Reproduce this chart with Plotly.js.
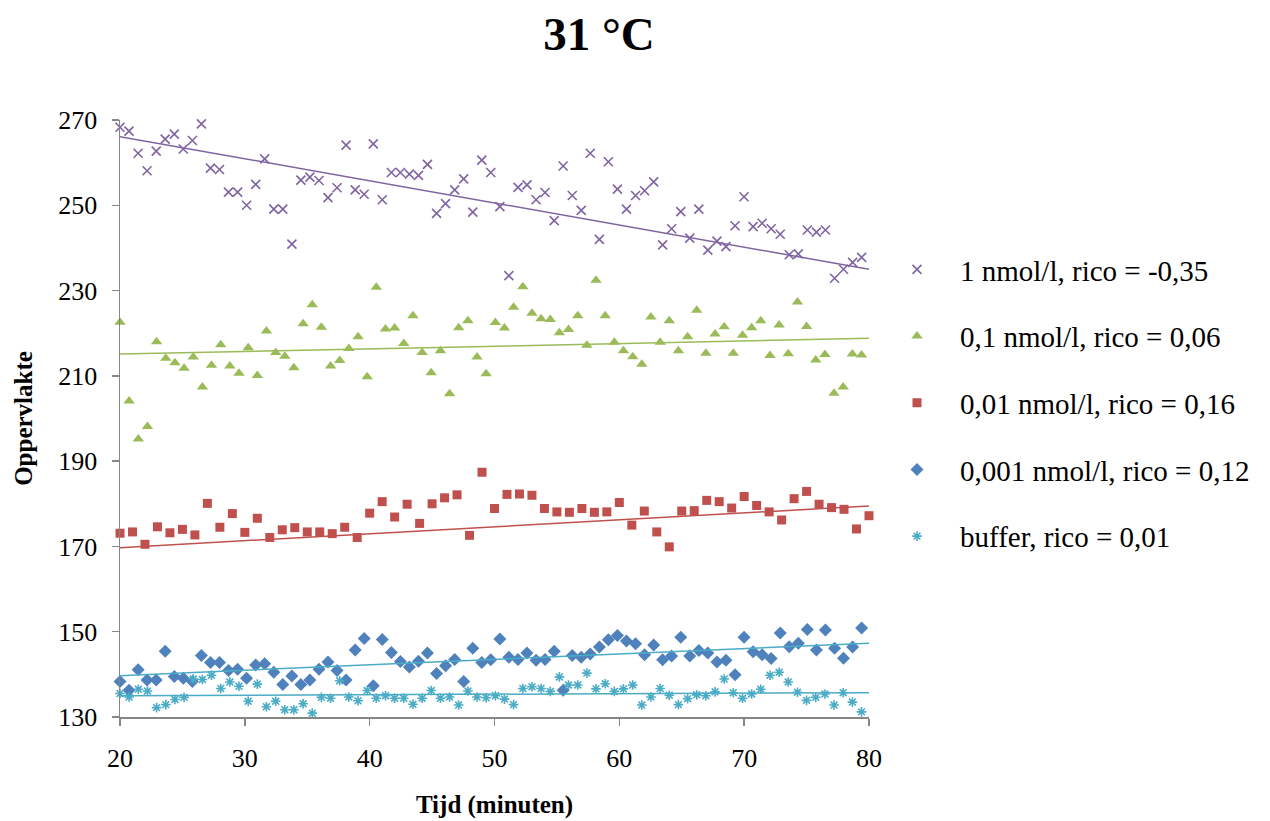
<!DOCTYPE html>
<html>
<head>
<meta charset="utf-8">
<script src="https://cdn.plot.ly/plotly-3.0.1.min.js"></script>
<style>html,body{margin:0;padding:0;background:#fff;}#chart{width:1270px;height:821px;}</style>
</head>
<body>
<div id="chart"></div>
<script>
// Time values (minutes)
const tijd83 = [20.00,20.72,21.45,22.17,22.90,23.62,24.35,25.07,25.80,26.52,27.25,27.97,28.69,29.42,30.14,30.87,31.59,32.32,33.04,33.77,34.49,35.21,35.94,36.66,37.39,38.11,38.84,39.56,40.29,41.01,41.74,42.46,43.18,43.91,44.63,45.36,46.08,46.81,47.53,48.26,48.98,49.70,50.43,51.15,51.88,52.60,53.33,54.05,54.78,55.50,56.23,56.95,57.67,58.40,59.12,59.85,60.57,61.30,62.02,62.75,63.47,64.19,64.92,65.64,66.37,67.09,67.82,68.54,69.27,69.99,70.72,71.44,72.16,72.89,73.61,74.34,75.06,75.79,76.51,77.24,77.96,78.69,79.41];
const tijd82 = [20.00,20.73,21.47,22.20,22.93,23.67,24.40,25.13,25.87,26.60,27.33,28.07,28.80,29.53,30.27,31.00,31.73,32.47,33.20,33.93,34.67,35.40,36.13,36.87,37.60,38.33,39.07,39.80,40.53,41.27,42.00,42.73,43.47,44.20,44.93,45.67,46.40,47.13,47.87,48.60,49.33,50.07,50.80,51.53,52.27,53.00,53.73,54.47,55.20,55.93,56.67,57.40,58.13,58.87,59.60,60.33,61.07,61.80,62.53,63.27,64.00,64.73,65.47,66.20,66.93,67.67,68.40,69.13,69.87,70.60,71.33,72.07,72.80,73.53,74.27,75.00,75.73,76.47,77.20,77.93,78.67,79.40];
const tijd61 = [20,21,22,23,24,25,26,27,28,29,30,31,32,33,34,35,36,37,38,39,40,41,42,43,44,45,46,47,48,49,50,51,52,53,54,55,56,57,58,59,60,61,62,63,64,65,66,67,68,69,70,71,72,73,74,75,76,77,78,79,80];

const y1nmol = [268.3,267.4,262.2,258.1,262.7,265.5,266.7,263.2,265.2,269.1,258.7,258.4,253.1,253.1,250.0,254.9,260.9,249.1,249.1,240.9,255.9,256.6,255.8,251.8,254.1,264.1,253.6,252.6,264.4,251.3,257.7,257.7,257.3,257.0,259.6,248.1,250.4,253.6,256.2,248.4,260.6,257.7,249.7,233.5,254.2,254.8,251.3,253.0,246.4,259.2,252.3,248.8,262.2,242.0,260.2,253.8,249.1,252.3,253.4,255.5,240.7,244.5,248.5,242.3,249.1,239.5,241.6,240.3,245.2,252.0,245.0,245.8,244.5,243.2,238.4,238.6,244.2,243.7,244.2,232.9,235.0,236.6,237.8];
const y01nmol = [222.6,204.1,195.2,198.1,218.0,214.1,213.1,211.8,214.4,207.4,212.5,217.3,212.3,210.6,216.6,210.1,220.5,215.5,214.6,211.9,222.2,226.7,221.4,212.3,213.6,216.4,219.2,209.8,230.8,221.0,221.2,217.6,224.1,215.5,210.7,215.9,205.8,221.3,222.9,214.4,210.5,222.5,221.2,226.1,230.9,224.7,223.4,223.2,220.1,220.9,224.1,217.2,232.4,224.1,217.9,215.9,214.5,212.7,223.8,217.9,222.9,215.9,219.2,225.4,215.3,219.8,221.5,215.3,219.5,221.3,222.9,214.8,221.9,215.2,227.3,221.6,213.7,215.0,205.9,207.4,215.1,214.9];
const y001nmol = [173.1,173.4,170.5,174.6,173.2,174.0,172.7,180.1,174.5,177.7,173.3,176.6,172.1,173.9,174.4,173.4,173.4,173.0,174.5,172.1,177.8,180.5,176.9,179.9,175.4,180.0,181.4,182.1,172.6,187.4,178.9,182.2,182.3,182.0,178.9,178.1,178.0,178.9,178.0,178.1,180.3,175.0,178.3,173.4,169.9,178.3,178.4,180.8,180.5,179.0,181.7,179.6,178.1,176.2,181.2,182.9,179.9,179.1,178.7,174.1,177.2];
const y0001nmol = [138.3,136.3,141.1,138.7,138.7,145.4,139.5,139.1,138.3,144.4,142.8,142.8,140.9,141.2,139.1,142.2,142.5,140.5,137.6,139.6,137.6,138.7,141.2,142.9,140.9,138.7,145.7,148.4,137.3,148.2,145.1,143.0,141.7,143.1,145.0,140.2,142.0,143.5,138.3,146.1,142.8,143.4,148.3,144.0,143.5,145.0,143.3,143.5,145.4,136.3,144.4,144.0,144.8,146.4,148.1,149.1,147.8,147.2,144.6,146.9,143.4,144.3,148.7,144.3,145.6,145.0,142.9,143.3,139.9,148.7,145.3,144.6,143.7,149.7,146.5,147.3,150.5,145.7,150.4,146.1,143.8,146.4,150.9];
const yBuffer = [135.5,134.7,136.5,136.1,132.2,132.9,134.1,134.6,138.9,138.8,139.8,136.7,138.2,137.2,133.7,137.7,132.4,133.7,131.7,131.7,133.1,130.9,134.6,134.4,138.5,134.7,133.8,136.2,134.4,135.0,134.4,134.4,133.0,134.4,136.2,134.4,134.7,132.8,136.1,134.7,134.5,135.0,134.2,132.9,136.7,137.1,136.7,136.0,139.4,137.5,137.5,140.3,136.6,137.8,136.0,136.6,137.5,132.8,134.7,136.7,135.1,132.9,134.3,135.2,135.0,135.9,138.9,135.7,134.4,135.4,136.5,139.8,140.5,138.2,135.8,133.9,134.6,135.4,132.8,135.7,133.5,131.2];

// Trendline values at x = 20 and x = 80
const trendX = [20, 80];
const trend1nmol = [266.1, 235.0];
const trend01nmol = [215.1, 218.8];
const trend001nmol = [169.7, 179.5];
const trend0001nmol = [139.7, 147.3];
const trendBuffer = [135.0, 135.7];

const seriesNames = ['1 nmol/l, rico = -0,35','0,1 nmol/l, rico = 0,06','0,01 nmol/l, rico = 0,16','0,001 nmol/l, rico = 0,12','buffer, rico = 0,01'];
const xRange = [20, 80];
const yRange = [130, 270];

const SERIF = "Liberation Serif";

const defs = [
  {x: tijd83, y: y1nmol, t: trend1nmol, color: '#8064A2', line: '#8064A2', symbol: 'x-thin-open', size: 9, lw: 1.6},
  {x: tijd82, y: y01nmol, t: trend01nmol, color: '#9BBB59', line: '#9BBB59', symbol: 'triangle-up', size: 10, lw: 0},
  {x: tijd61, y: y001nmol, t: trend001nmol, color: '#C0504D', line: '#C0504D', symbol: 'square', size: 9, lw: 0},
  {x: tijd83, y: y0001nmol, t: trend0001nmol, color: '#4F81BD', line: '#4BACC6', symbol: 'diamond', size: 10, lw: 0},
  {x: tijd82, y: yBuffer, t: trendBuffer, color: '#4BACC6', line: '#4BACC6', symbol: 'asterisk-open', size: 8, lw: 1.6}
];

const traces = [];
defs.forEach((d, i) => {
  traces.push({
    type: 'scatter', mode: 'markers', x: d.x, y: d.y, name: seriesNames[i],
    legendgroup: 'g' + i,
    marker: {symbol: d.symbol, size: d.size, color: d.color, line: {color: d.color, width: d.lw}},
    cliponaxis: false
  });
});
defs.forEach((d, i) => {
  traces.push({
    type: 'scatter', mode: 'lines', x: trendX, y: d.t, showlegend: false,
    legendgroup: 'g' + i, hoverinfo: 'skip',
    line: {color: d.line, width: 1.5}
  });
});

const layout = {
  width: 1270, height: 821,
  margin: {l: 120, r: 401, t: 120, b: 104},
  paper_bgcolor: '#ffffff', plot_bgcolor: '#ffffff',
  font: {family: SERIF, color: '#000000'},
  title: {text: '31 °C', font: {family: SERIF, size: 47, weight: 'bold', color: '#000'},
          x: 599/1270, xref: 'container', xanchor: 'center', y: 1 - 34/821, yref: 'container', yanchor: 'middle'},
  xaxis: {
    range: xRange, dtick: 10, tick0: 20, showgrid: false, zeroline: false,
    showline: true, linecolor: '#868686', linewidth: 1.5,
    ticks: 'outside', ticklen: 7, tickcolor: '#868686', tickwidth: 1.5,
    ticklabelstandoff: 10,
    tickfont: {family: SERIF, size: 26, color: '#000'},
    title: {text: 'Tijd (minuten)', font: {family: SERIF, size: 25, weight: 'bold', color: '#000'}, standoff: 24}
  },
  yaxis: {
    range: yRange, dtick: 20, tick0: 130, showgrid: false, zeroline: false,
    showline: true, linecolor: '#868686', linewidth: 1.5,
    ticks: 'outside', ticklen: 7, tickcolor: '#868686', tickwidth: 1.5,
    ticklabelstandoff: 9,
    tickfont: {family: SERIF, size: 26, color: '#000'},
    title: {text: 'Oppervlakte', font: {family: SERIF, size: 25, weight: 'bold', color: '#000'}, standoff: 18}
  },
  legend: {
    x: 874/1270, xref: 'container', xanchor: 'left',
    y: 1 - 244/821, yref: 'container', yanchor: 'top',
    font: {family: SERIF, size: 29, color: '#000'},
    tracegroupgap: 26, traceorder: 'grouped',
    bgcolor: 'rgba(0,0,0,0)', itemwidth: 76
  },
  showlegend: true
};

Plotly.newPlot('chart', traces, layout, {displayModeBar: false, staticPlot: true});
</script>
</body>
</html>
